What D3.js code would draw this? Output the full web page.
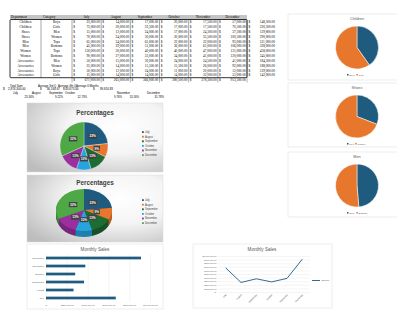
<!DOCTYPE html>
<html lang="en">
<head>
<meta charset="UTF-8">
<title>Monthly Sales Sheet</title>
<script src="https://d3js.org/d3.v7.min.js"></script>
<style>
  body { margin: 0; background: #fff; }
  svg { display: block; }
  .serif { font-family: "Liberation Serif", "DejaVu Serif", serif; }
  .sans { font-family: "Liberation Sans", Arial, sans-serif; }
</style>
</head>
<body>
<div id="sheet"></div>
<script>
// ---- data ----
const months = ["July", "August", "September", "October", "November", "December"];
const departments = ["Children", "Children", "Shoes", "Shoes", "Men", "Men", "Women", "Women",
                     "Accessories", "Accessories", "Accessories", "Accessories"];
const categories = ["Boys", "Girls", "Men", "Women", "Tops", "Bottoms", "Tops", "Bottoms",
                    "Men", "Women", "Boys", "Girls"];
const july      = [23000, 73000, 15000, 70000, 65000, 45000, 150000, 90000, 50000, 25000, 50000, 15000];
const august    = [14000, 20000, 12000, 24000, 34000, 29000, 50000, 27000, 15000, 14000, 12000, 14000];
const september = [17000, 22500, 24000, 30000, 65000, 51000, 40000, 33000, 30000, 15500, 24000, 14000];
const october   = [20000, 17000, 17000, 30000, 22000, 36000, 40000, 34000, 24000, 15500, 11000, 14000];
const november  = [17500, 17500, 24300, 35500, 32000, 61000, 47000, 41000, 24500, 26000, 20000, 32000];
const december  = [57000, 70500, 37500, 100500, 93000, 106000, 131000, 120000, 41000, 92000, 12000, 53000];
const rowTotals = [148500, 220500, 129800, 290000, 311000, 328000, 458000, 345000, 184500, 188000, 129000, 142000];
const monthTotals = [671000, 265000, 366000, 280500, 378300, 913500];
const monthPercents = [23.34, 9.22, 12.73, 9.76, 13.16, 31.78];
const summaryLabels = ["Total Sum:", "Average 3rd Q", "Average 4th Q", "Average 6 Months"];
const summaryValues = [2874300, 36166.67, 43675.00, 39920.83];
const barTicks = [0, 200000, 400000, 600000, 800000, 1000000];
const lineTicks = [0, 100000, 200000, 300000, 400000, 500000, 600000, 700000, 800000, 900000, 1000000];
const pieGroups = [
  { title: "Children", labels: ["Boys", "Girls"], values: [148500, 220500] },
  { title: "Shoes", labels: ["Men", "Women"], values: [129800, 290000] },
  { title: "Men", labels: ["Tops", "Bottoms"], values: [311000, 328000] }
];

const monthCols = [july, august, september, october, november, december];
const monthColors = ["#1f5a7f", "#e8772e", "#1e6b34", "#27a4dd", "#9b2f9e", "#4ea845"];
const pairColors = ["#1f5a7f", "#e8772e"];
const money = d3.format(",.2f");
const moneyTick = v => v === 0 ? "$-" : "$" + money(v);

const svg = d3.select("#sheet").append("svg")
  .attr("width", 397).attr("height", 328);

// ---- table ----
const table = svg.append("g").attr("class", "serif").style("font-size", "3.4px");
const colX = d3.scaleBand().domain(months).range([72, 247]);
const rowY = d3.scaleBand().domain(d3.range(departments.length)).range([19.5, 77.7]);
const bw = colX.bandwidth();

table.append("rect").attr("x", 10).attr("y", 15).attr("width", 237).attr("height", 4.5).attr("fill", "#c4c4c4");
table.append("text").attr("x", 11).attr("y", 18.4).text("Department");
table.append("text").attr("x", 43).attr("y", 18.4).text("Category");
table.selectAll(".mh").data(months).join("text")
  .attr("x", d => colX(d) + bw / 2).attr("y", 18.4).attr("text-anchor", "middle").text(d => d);

const rows = table.selectAll(".row").data(departments).join("g")
  .attr("transform", (d, i) => `translate(0,${rowY(i) + rowY.bandwidth() / 2 + 1.2})`);
rows.append("text").attr("x", 25.5).attr("text-anchor", "middle").text(d => d);
rows.append("text").attr("x", 56.5).attr("text-anchor", "middle").text((d, i) => categories[i]);
months.forEach((m, j) => {
  rows.append("text").attr("x", colX(m) + 1.2).text("$");
  rows.append("text").attr("x", colX(m) + bw - 1.2).attr("text-anchor", "end")
    .text((d, i) => money(monthCols[j][i]));
});
rows.append("text").attr("x", 248.5).text("$");
rows.append("text").attr("x", 275).attr("text-anchor", "end").text((d, i) => money(rowTotals[i]));

const seps = [41, 72].concat(months.map(m => colX(m) + bw));
table.selectAll(".vsep").data(seps).join("line")
  .attr("x1", d => d).attr("x2", d => d).attr("y1", 19.5).attr("y2", 77.7)
  .attr("stroke", "#000").attr("stroke-width", 0.35);
table.append("rect").attr("x", 10).attr("y", 19.5).attr("width", 237).attr("height", 58.2)
  .attr("rx", 1).attr("fill", "none").attr("stroke", "#000").attr("stroke-width", 0.8);

// total row
const tot = table.append("g").attr("transform", "translate(0,81.4)");
months.forEach((m, j) => {
  tot.append("text").attr("x", colX(m) + 1.2).text("$");
  tot.append("text").attr("x", colX(m) + bw - 1.2).attr("text-anchor", "end").text(money(monthTotals[j]));
});
table.selectAll(".tsep").data([72].concat(months.map(m => colX(m) + bw))).join("line")
  .attr("x1", d => d).attr("x2", d => d).attr("y1", 77.7).attr("y2", 82.5)
  .attr("stroke", "#000").attr("stroke-width", 0.3);

// ---- summary ----
const summ = svg.append("g").attr("class", "sans").style("font-size", "2.8px").attr("fill", "#000");
const sumLabelX = [10, 38, 58, 76];
const sumDollarX = [3, 40, 63, 93];
const sumValueX = [25.5, 60, 78.5, 113];
summ.selectAll(".sl").data(summaryLabels).join("text")
  .attr("x", (d, i) => sumLabelX[i]).attr("y", 86.6).text(d => d);
summ.selectAll(".sd").data(summaryValues).join("text")
  .attr("x", (d, i) => sumDollarX[i]).attr("y", 90.4).style("font-size", "3px").text("$");
summ.selectAll(".sv").data(summaryValues).join("text")
  .attr("x", (d, i) => sumValueX[i]).attr("y", 90.4).attr("text-anchor", "end")
  .style("font-size", "3px").text(d => money(d));
const pctLabelX = [13, 32, 49, 65, 117, 147];
const pctValueX = [34, 63, 87, 122, 139, 164];
summ.selectAll(".pl").data(months).join("text")
  .attr("x", (d, i) => pctLabelX[i]).attr("y", 94.3).text(d => d);
summ.selectAll(".pv").data(monthPercents).join("text")
  .attr("x", (d, i) => pctValueX[i]).attr("y", 98.1).attr("text-anchor", "end").text(d => d.toFixed(2) + "%");

// ---- gradients ----
const defs = svg.append("defs");
const grad = defs.append("radialGradient").attr("id", "bgGrad")
  .attr("cx", "0.68").attr("cy", "0.35").attr("r", "0.85");
grad.append("stop").attr("offset", "0%").attr("stop-color", "#ffffff");
grad.append("stop").attr("offset", "45%").attr("stop-color", "#f4f4f4");
grad.append("stop").attr("offset", "100%").attr("stop-color", "#bdbdbd");

function box(x, y, w, h, fill) {
  svg.append("rect").attr("x", x).attr("y", y).attr("width", w).attr("height", h)
    .attr("fill", fill).attr("stroke", "#d9d9d9").attr("stroke-width", 0.5);
}
function title(x, y, t, size, bold) {
  svg.append("text").attr("class", "sans").attr("x", x).attr("y", y).attr("text-anchor", "middle")
    .style("font-size", size + "px").style("font-weight", bold ? "bold" : "normal")
    .attr("fill", bold ? "#404040" : "#595959").text(t);
}

const pie = d3.pie().sort(null).value(d => d);
const pctFmt = d3.format(".0%");

function monthLegend(x, y0) {
  const lg = svg.append("g").attr("class", "sans").style("font-size", "2.6px");
  const it = lg.selectAll("g").data(months).join("g")
    .attr("transform", (d, i) => `translate(${x},${y0 + i * 4.6})`);
  it.append("rect").attr("x", 0).attr("y", -1.8).attr("width", 1.8).attr("height", 1.8)
    .attr("fill", (d, i) => monthColors[i]);
  it.append("text").attr("x", 3).attr("y", 0).attr("fill", "#404040").text(d => d);
}
function dataLabels(cx, cy, r, sy) {
  const la = d3.arc().innerRadius(r).outerRadius(r);
  const lab = svg.append("g").attr("class", "sans");
  const g = lab.selectAll("g").data(pie(monthTotals)).join("g")
    .attr("transform", d => { const c = la.centroid(d); return `translate(${cx + c[0]},${cy + c[1] * sy})`; });
  g.append("rect").attr("x", d => d.index === 1 ? -3.2 : -4.2).attr("y", -2.6)
    .attr("width", d => d.index === 1 ? 6.4 : 8.4).attr("height", 5).attr("fill", "#404040");
  g.append("text").attr("text-anchor", "middle").attr("y", 1.1)
    .style("font-size", "3.2px").style("font-weight", "bold").attr("fill", "#fff")
    .text((d, i) => pctFmt(monthPercents[i] / 100));
}

// ---- Percentages pie (flat) ----
box(27, 103, 136, 69, "url(#bgGrad)");
title(95, 115, "Percentages", 6.3, true);
const arc1 = d3.arc().innerRadius(0).outerRadius(24);
svg.append("g").attr("transform", "translate(84,146)")
  .selectAll("path").data(pie(monthTotals)).join("path")
  .attr("d", arc1).attr("fill", (d, i) => monthColors[i])
  .attr("stroke", "#fff").attr("stroke-width", 0.3);
dataLabels(84, 146, 13, 1);
monthLegend(142, 133);

// ---- Percentages pie (3D) ----
box(27, 175, 136, 67, "url(#bgGrad)");
title(95, 185, "Percentages", 6.3, true);
const arc2 = d3.arc().innerRadius(0).outerRadius(28);
const depth = 6;
d3.range(depth, 0, -1).forEach(dz => {
  svg.append("g").attr("transform", `translate(84,${210 + dz}) scale(1,0.75)`)
    .selectAll("path").data(pie(monthTotals)).join("path")
    .attr("d", arc2).attr("fill", (d, i) => d3.color(monthColors[i]).darker(0.7));
});
svg.append("g").attr("transform", "translate(84,210) scale(1,0.75)")
  .selectAll("path").data(pie(monthTotals)).join("path")
  .attr("d", arc2).attr("fill", (d, i) => monthColors[i]);
dataLabels(84, 210, 13, 0.75);
monthLegend(142, 201);

// ---- small two-slice pies on the right ----
const boxTops = [14, 83, 152];
const boxHeights = [66, 64, 65];
const pieArc = d3.arc().innerRadius(0).outerRadius(21.5);
pieGroups.forEach((pg, k) => {
  const top = boxTops[k];
  box(288, top, 140, boxHeights[k], "#fff");
  title(357, top + 5.5, pg.title, 3.8, false);
  svg.append("g").attr("transform", `translate(357,${top + 33.5})`)
    .selectAll("path").data(pie(pg.values)).join("path")
    .attr("d", pieArc).attr("fill", (d, i) => pairColors[i])
    .attr("stroke", "#fff").attr("stroke-width", 0.5);
  const lg = svg.append("g").attr("class", "sans").style("font-size", "2.3px")
    .attr("transform", `translate(347,${top + 61.5})`);
  let off = 0;
  pg.labels.forEach((l, i) => {
    lg.append("rect").attr("x", off).attr("y", -1.5).attr("width", 1.5).attr("height", 1.5).attr("fill", pairColors[i]);
    lg.append("text").attr("x", off + 2.2).attr("y", 0).attr("fill", "#595959").text(l);
    off += 2.2 + l.length * 1.3 + 2;
  });
});

// ---- Monthly Sales bar chart ----
box(27, 244, 136, 65, "#fff");
title(95, 251, "Monthly Sales", 4.6, false);
const xBar = d3.scaleLinear().domain([0, 1000000]).range([46, 150]);
const yBar = d3.scaleBand().domain(months.slice().reverse()).range([254, 302])
  .paddingInner(0.66).paddingOuter(0.33);
svg.append("g").attr("transform", "translate(0,302)")
  .call(d3.axisBottom(xBar).tickValues(barTicks).tickSize(-48).tickFormat(""))
  .call(g => g.select(".domain").remove())
  .call(g => g.selectAll("line").attr("stroke", "#d9d9d9").attr("stroke-width", 0.3));
svg.append("g").selectAll("rect").data(months).join("rect")
  .attr("x", xBar(0)).attr("y", d => yBar(d))
  .attr("width", (d, i) => xBar(monthTotals[i]) - xBar(0)).attr("height", yBar.bandwidth())
  .attr("fill", "#1f5a7f");
svg.append("g").attr("transform", "translate(0,301.5)").attr("class", "sans")
  .call(d3.axisBottom(xBar).tickValues(barTicks).tickSize(0).tickPadding(3).tickFormat(moneyTick))
  .call(g => g.select(".domain").remove())
  .call(g => g.selectAll("text").attr("class", "sans").style("font-size", "2.3px").attr("fill", "#595959"));
svg.append("g").attr("transform", "translate(45.5,0)")
  .call(d3.axisLeft(yBar).tickSize(0).tickPadding(1.5))
  .call(g => g.select(".domain").remove())
  .call(g => g.selectAll("text").attr("class", "sans").style("font-size", "2.5px").attr("fill", "#595959"));

// ---- Monthly Sales line chart ----
box(193, 244, 139, 64, "#fff");
title(262, 251, "Monthly Sales", 4.6, false);
const xLine = d3.scalePoint().domain(months).range([218, 310]).padding(0.5);
const yLine = d3.scaleLinear().domain([0, 1000000]).range([292, 256]);
svg.append("g").attr("transform", "translate(218,0)")
  .call(d3.axisLeft(yLine).tickValues(lineTicks).tickSize(-92).tickFormat(""))
  .call(g => g.select(".domain").remove())
  .call(g => g.selectAll("line").attr("stroke", "#d9d9d9").attr("stroke-width", 0.3));
svg.append("g").attr("transform", "translate(218,0)")
  .call(d3.axisLeft(yLine).tickValues(lineTicks).tickSize(0).tickPadding(1.5).tickFormat(moneyTick))
  .call(g => g.select(".domain").remove())
  .call(g => g.selectAll("text").attr("class", "sans").style("font-size", "2.2px").attr("fill", "#595959"));
svg.append("path").datum(monthTotals)
  .attr("d", d3.line().x((d, i) => xLine(months[i])).y(d => yLine(d)))
  .attr("fill", "none").attr("stroke", "#1f5a7f").attr("stroke-width", 0.9);
svg.append("g").attr("class", "sans").selectAll("text").data(months).join("text")
  .attr("transform", d => `translate(${xLine(d) + 1},${295}) rotate(-45)`)
  .attr("text-anchor", "end").style("font-size", "2.3px").attr("fill", "#595959").text(d => d);
svg.append("line").attr("x1", 312).attr("x2", 320).attr("y1", 280.5).attr("y2", 280.5)
  .attr("stroke", "#1f5a7f").attr("stroke-width", 0.9);
svg.append("text").attr("class", "sans").attr("x", 321.5).attr("y", 281.3)
  .style("font-size", "2.3px").attr("fill", "#595959").text("Series1");
</script>
</body>
</html>
